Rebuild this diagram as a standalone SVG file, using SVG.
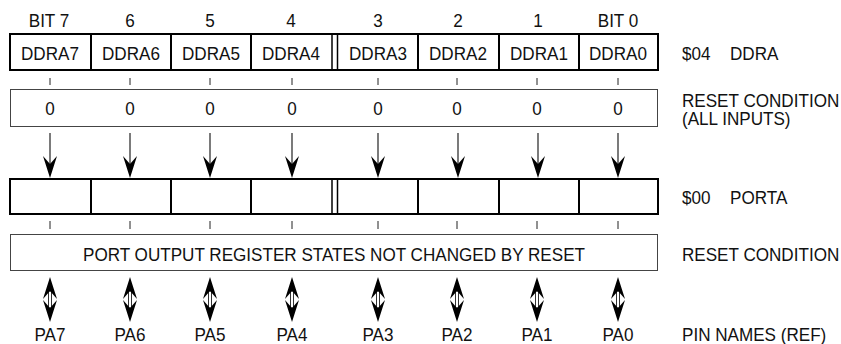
<svg xmlns="http://www.w3.org/2000/svg" width="841" height="344" viewBox="0 0 841 344">
<defs>
<style>
text{font-family:"Liberation Sans",Arial,sans-serif;font-size:19px;fill:#111;transform-box:fill-box;transform:scaleX(0.9)}
.c{text-anchor:middle;transform-origin:center}
.l{transform-origin:left center}
.reg{fill:#fff;stroke:#000;stroke-width:2}
.div{stroke:#000;stroke-width:2}
.dbl{stroke:#000;stroke-width:1.5}
.rst{fill:#fff;stroke:#444;stroke-width:1}
.tick{stroke:#222;stroke-width:1}
.stem{stroke:#222;stroke-width:1.2}
.head{fill:#000}
.shaft{fill:#fff;stroke:#000;stroke-width:0.8}
</style>
<path id="dn" class="head" d="M0,0 L-7,-22 L0,-14 L7,-22 Z"/>
<path id="up" class="head" d="M0,0 L-7,22 L0,14 L7,22 Z"/>
<g id="bidir">
<rect class="shaft" x="-1.5" y="14" width="3" height="17"/>
<use href="#up" x="0" y="0"/>
<use href="#dn" x="0" y="45"/>
</g>
</defs>
<rect width="841" height="344" fill="#fff"/>

<g id="bit-labels">
<text class="c" x="49" y="27">BIT 7</text>
<text class="c" x="130" y="27">6</text>
<text class="c" x="210" y="27">5</text>
<text class="c" x="291" y="27">4</text>
<text class="c" x="378" y="27">3</text>
<text class="c" x="458" y="27">2</text>
<text class="c" x="538" y="27">1</text>
<text class="c" x="618" y="27">BIT 0</text>
</g>

<g id="ddra">
<rect class="reg" x="10" y="34" width="648" height="36"/>
<line class="div" x1="91" y1="34" x2="91" y2="70"/>
<line class="div" x1="171" y1="34" x2="171" y2="70"/>
<line class="div" x1="251" y1="34" x2="251" y2="70"/>
<line class="dbl" x1="332" y1="34" x2="332" y2="70"/>
<line class="dbl" x1="337.5" y1="34" x2="337.5" y2="70"/>
<line class="div" x1="418" y1="34" x2="418" y2="70"/>
<line class="div" x1="499" y1="34" x2="499" y2="70"/>
<line class="div" x1="579" y1="34" x2="579" y2="70"/>
<text class="c" x="50" y="60">DDRA7</text>
<text class="c" x="131" y="60">DDRA6</text>
<text class="c" x="211" y="60">DDRA5</text>
<text class="c" x="291" y="60">DDRA4</text>
<text class="c" x="378" y="60">DDRA3</text>
<text class="c" x="458" y="60">DDRA2</text>
<text class="c" x="539" y="60">DDRA1</text>
<text class="c" x="618" y="60">DDRA0</text>
</g>

<g id="ddra-ticks">
<line class="tick" x1="50" y1="78" x2="50" y2="85"/>
<line class="tick" x1="130" y1="78" x2="130" y2="85"/>
<line class="tick" x1="210" y1="78" x2="210" y2="85"/>
<line class="tick" x1="292" y1="78" x2="292" y2="85"/>
<line class="tick" x1="378" y1="78" x2="378" y2="85"/>
<line class="tick" x1="457" y1="78" x2="457" y2="85"/>
<line class="tick" x1="537" y1="78" x2="537" y2="85"/>
<line class="tick" x1="618" y1="78" x2="618" y2="85"/>
</g>

<g id="ddra-reset">
<rect class="rst" x="10.5" y="89.5" width="647" height="37"/>
<text class="c" x="50" y="115">0</text>
<text class="c" x="130" y="115">0</text>
<text class="c" x="210" y="115">0</text>
<text class="c" x="292" y="115">0</text>
<text class="c" x="378" y="115">0</text>
<text class="c" x="457" y="115">0</text>
<text class="c" x="537" y="115">0</text>
<text class="c" x="618" y="115">0</text>
</g>

<g id="connectors">
<line class="stem" x1="50" y1="133" x2="50" y2="166"/>
<line class="stem" x1="130" y1="133" x2="130" y2="166"/>
<line class="stem" x1="210" y1="133" x2="210" y2="166"/>
<line class="stem" x1="292" y1="133" x2="292" y2="166"/>
<line class="stem" x1="378" y1="133" x2="378" y2="166"/>
<line class="stem" x1="458" y1="133" x2="458" y2="166"/>
<line class="stem" x1="538" y1="133" x2="538" y2="166"/>
<line class="stem" x1="618" y1="133" x2="618" y2="166"/>
<use href="#dn" x="50" y="178"/>
<use href="#dn" x="130" y="178"/>
<use href="#dn" x="210" y="178"/>
<use href="#dn" x="292" y="178"/>
<use href="#dn" x="378" y="178"/>
<use href="#dn" x="458" y="178"/>
<use href="#dn" x="538" y="178"/>
<use href="#dn" x="618" y="178"/>
<use href="#bidir" x="50" y="277"/>
<use href="#bidir" x="130" y="277"/>
<use href="#bidir" x="210" y="277"/>
<use href="#bidir" x="292" y="277"/>
<use href="#bidir" x="378" y="277"/>
<use href="#bidir" x="457" y="277"/>
<use href="#bidir" x="537" y="277"/>
<use href="#bidir" x="618" y="277"/>
</g>

<g id="porta">
<rect class="reg" x="10" y="179" width="648" height="35"/>
<line class="div" x1="91" y1="179" x2="91" y2="214"/>
<line class="div" x1="171" y1="179" x2="171" y2="214"/>
<line class="div" x1="251" y1="179" x2="251" y2="214"/>
<line class="dbl" x1="332" y1="179" x2="332" y2="214"/>
<line class="dbl" x1="337.5" y1="179" x2="337.5" y2="214"/>
<line class="div" x1="418" y1="179" x2="418" y2="214"/>
<line class="div" x1="499" y1="179" x2="499" y2="214"/>
<line class="div" x1="579" y1="179" x2="579" y2="214"/>
</g>

<g id="porta-ticks">
<line class="tick" x1="50" y1="221" x2="50" y2="229"/>
<line class="tick" x1="130" y1="221" x2="130" y2="229"/>
<line class="tick" x1="210" y1="221" x2="210" y2="229"/>
<line class="tick" x1="292" y1="221" x2="292" y2="229"/>
<line class="tick" x1="378" y1="221" x2="378" y2="229"/>
<line class="tick" x1="457" y1="221" x2="457" y2="229"/>
<line class="tick" x1="537" y1="221" x2="537" y2="229"/>
<line class="tick" x1="618" y1="221" x2="618" y2="229"/>
</g>

<g id="porta-reset">
<rect class="rst" x="10.5" y="234.5" width="647" height="36"/>
<text class="c" x="334" y="261">PORT OUTPUT REGISTER STATES NOT CHANGED BY RESET</text>
</g>

<g id="pin-names">
<text class="c" x="50" y="341">PA7</text>
<text class="c" x="130" y="341">PA6</text>
<text class="c" x="210" y="341">PA5</text>
<text class="c" x="292" y="341">PA4</text>
<text class="c" x="378" y="341">PA3</text>
<text class="c" x="457" y="341">PA2</text>
<text class="c" x="537" y="341">PA1</text>
<text class="c" x="618" y="341">PA0</text>
</g>

<g id="right-labels">
<text class="l" x="682" y="60">$04</text>
<text class="l" x="730" y="60">DDRA</text>
<text class="l" x="682" y="107">RESET CONDITION</text>
<text class="l" x="682" y="125">(ALL INPUTS)</text>
<text class="l" x="682" y="204">$00</text>
<text class="l" x="730" y="204">PORTA</text>
<text class="l" x="682" y="261">RESET CONDITION</text>
<text class="l" x="682" y="341">PIN NAMES (REF)</text>
</g>
</svg>
